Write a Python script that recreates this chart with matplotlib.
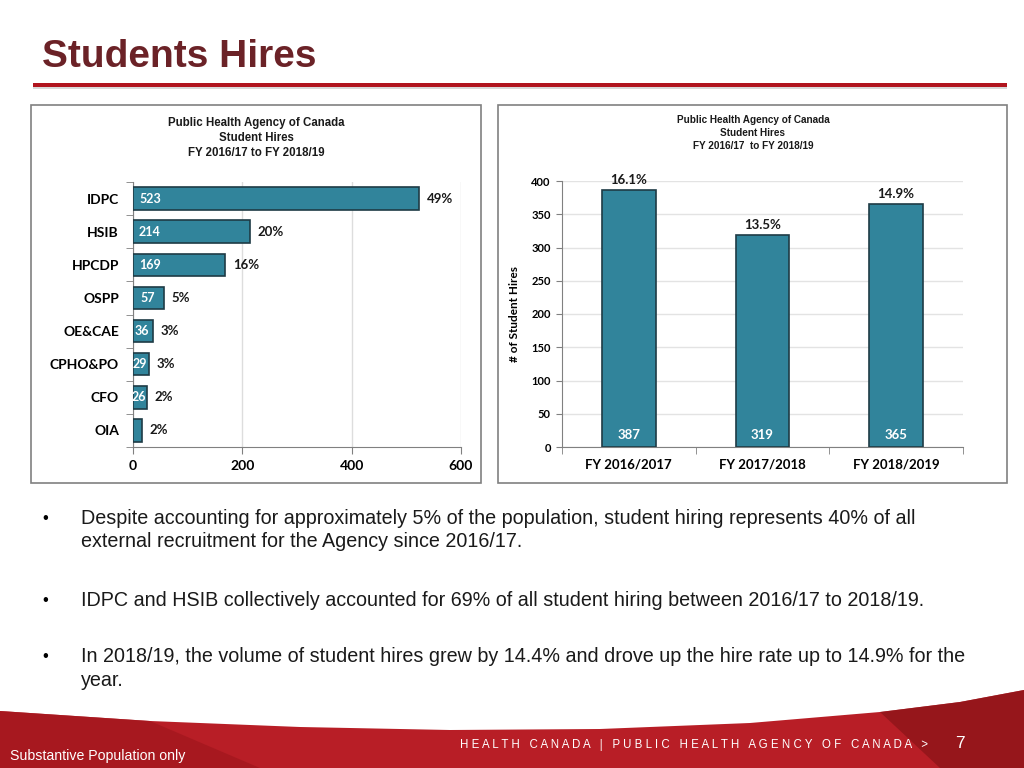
import matplotlib
matplotlib.use("Agg")
import matplotlib.pyplot as plt
from matplotlib.patches import Rectangle, Polygon
from matplotlib import font_manager
import numpy as np

# ---------------- data ----------------
branches = ["IDPC", "HSIB", "HPCDP", "OSPP", "OE&CAE", "CPHO&PO", "CFO", "OIA"]
branch_hires = [523, 214, 169, 57, 36, 29, 26, 17]
branch_pct = ["49%", "20%", "16%", "5%", "3%", "3%", "2%", "2%"]
branch_show_value = [True, True, True, True, True, True, True, False]
branch_ticks = [0, 200, 400, 600]

years = ["FY 2016/2017", "FY 2017/2018", "FY 2018/2019"]
year_hires = [387, 319, 365]
year_rate = ["16.1%", "13.5%", "14.9%"]
year_ticks = [0, 50, 100, 150, 200, 250, 300, 350, 400]

chart_title_left = "Public Health Agency of Canada\nStudent Hires\nFY 2016/17 to FY 2018/19"
chart_title_right = "Public Health Agency of Canada\nStudent Hires\nFY 2016/17  to FY 2018/19"
slide_title = "Students Hires"
bullets = [
    ["Despite accounting for approximately 5% of the population, student hiring represents 40% of all",
     "external recruitment for the Agency since 2016/17."],
    ["IDPC and HSIB collectively accounted for 69% of all student hiring between 2016/17 to 2018/19."],
    ["In 2018/19, the volume of student hires grew by 14.4% and drove up the hire rate up to 14.9% for the",
     "year."],
]

# ---------------- fonts ----------------
avail = {f.name for f in font_manager.fontManager.ttflist}
narrow = "Liberation Sans Narrow" if "Liberation Sans Narrow" in avail else "Liberation Sans"
chartfont = "Lato" if "Lato" in avail else "DejaVu Sans"
arial = "Liberation Sans"

BAR = "#31849B"
EDGE = "#1E3B45"
W, H = 1024, 768

fig = plt.figure(figsize=(10.24, 7.68), dpi=100)

def fx(x):
    return x / W

def fy(y):
    return 1 - y / H

# title and rule
fig.text(fx(42), fy(57), slide_title, family=narrow, fontweight="bold",
         fontsize=28, color="#6B2227", va="center", ha="left")
fig.add_artist(Rectangle((fx(33), fy(87)), fx(1007 - 33), 4 / H,
                         transform=fig.transFigure, facecolor="#B0141E",
                         edgecolor="none"))
fig.add_artist(Rectangle((fx(33), fy(89)), fx(1007 - 33), 2 / H,
                         transform=fig.transFigure, facecolor="#D9D9D9",
                         edgecolor="none", zorder=0))

# panel frames
for (x0, y0, x1, y1) in [(31, 105, 481, 483), (498, 105, 1007, 483)]:
    fig.add_artist(Rectangle((fx(x0), fy(y1)), fx(x1 - x0), (y1 - y0) / H,
                             transform=fig.transFigure, facecolor="white",
                             edgecolor="#808080", linewidth=1.2, zorder=0))

# ---------------- left chart ----------------
axL = fig.add_axes([fx(133), fy(447), fx(461 - 133), (447 - 182) / H])
ypos = np.arange(len(branches))
axL.barh(ypos, branch_hires, height=0.68, color=BAR, edgecolor=EDGE, linewidth=1.2, zorder=3)
axL.set_xlim(0, 600)
axL.set_ylim(len(branches) - 0.5, -0.5)
axL.set_xticks(branch_ticks)
axL.set_xticklabels([str(t) for t in branch_ticks], family=chartfont, fontweight="bold", fontsize=10)
axL.set_yticks(ypos)
axL.set_yticklabels(branches, family=chartfont, fontweight="bold", fontsize=10)
axL.tick_params(axis="y", length=0, pad=10)
axL.tick_params(axis="x", length=5, color="#808080", pad=4)
axL.set_yticks(np.arange(-0.5, len(branches), 1.0), minor=True)
axL.tick_params(axis="y", which="minor", length=5, color="#808080")
axL.grid(axis="x", color="#DDDDDD", linewidth=1, zorder=0)
for s in ["top", "right"]:
    axL.spines[s].set_visible(False)
axL.spines["left"].set_color("#808080")
axL.spines["bottom"].set_color("#808080")
for i, (v, p, show) in enumerate(zip(branch_hires, branch_pct, branch_show_value)):
    if show:
        if v > 60:
            axL.text(11, i, str(v), color="white", family=chartfont, fontweight="bold",
                     fontsize=9, va="center", ha="left", zorder=4)
        else:
            axL.text(v / 2 - 2, i, str(v), color="white", family=chartfont, fontweight="bold",
                     fontsize=9, va="center", ha="center", zorder=4)
    axL.text(v + 14, i, p, color="#1a1a1a", family=chartfont, fontweight="bold",
             fontsize=9.5, va="center", ha="left", zorder=4)
fig.text(fx(256), fy(138), chart_title_left, family=narrow, fontweight="bold",
         fontsize=8.3, ha="center", va="center", linespacing=1.35, color="#1a1a1a")

# ---------------- right chart ----------------
axR = fig.add_axes([fx(562), fy(447), fx(963 - 562), (447 - 181) / H])
xpos = np.arange(len(years))
axR.bar(xpos, year_hires, width=0.4, color=BAR, edgecolor=EDGE, linewidth=1.2, zorder=3)
axR.set_xlim(-0.5, len(years) - 0.5)
axR.set_ylim(0, 400)
axR.set_yticks(year_ticks)
axR.set_yticklabels([str(t) for t in year_ticks], family=chartfont, fontweight="bold", fontsize=8)
axR.set_xticks(xpos)
axR.set_xticklabels(years, family=chartfont, fontweight="bold", fontsize=9.5)
axR.tick_params(axis="x", length=0, pad=8)
axR.set_xticks(np.arange(-0.5, len(years), 1.0), minor=True)
axR.tick_params(axis="x", which="minor", length=5, color="#808080")
axR.tick_params(axis="y", length=4, color="#808080", pad=4)
axR.grid(axis="y", color="#E3E3E3", linewidth=1, zorder=0)
for s in ["top", "right"]:
    axR.spines[s].set_visible(False)
axR.spines["left"].set_color("#808080")
axR.spines["bottom"].set_color("#808080")
axR.set_ylabel("# of Student Hires", family=chartfont, fontweight="bold", fontsize=8.5, labelpad=8)
for i, (v, r) in enumerate(zip(year_hires, year_rate)):
    axR.text(i, 18, str(v), color="white", family=chartfont, fontweight="bold",
             fontsize=9.5, ha="center", va="center", zorder=4)
    axR.text(i, v + 6, r, color="#1a1a1a", family=chartfont, fontweight="bold",
             fontsize=9.5, ha="center", va="bottom", zorder=4)
fig.text(fx(753), fy(133), chart_title_right, family=narrow, fontweight="bold",
         fontsize=7.2, ha="center", va="center", linespacing=1.4, color="#1a1a1a")

# ---------------- bullets ----------------
bullet_y = [518, 600, 657]
for by, lines in zip(bullet_y, bullets):
    fig.text(fx(42), fy(by), "\u2022", family=arial, fontsize=12, va="center", ha="left")
    for k, line in enumerate(lines):
        fig.text(fx(81), fy(by + 23.5 * k), line, family=arial, fontsize=14.2,
                 va="center", ha="left", color="#1a1a1a")

# ---------------- footer band ----------------
top_edge_x = [0, 150, 300, 450, 600, 750, 880, 960, 1024]
top_edge_y = [711, 721, 727, 730, 729, 723, 712, 702, 690]
pts = [(fx(x), fy(y)) for x, y in zip(top_edge_x, top_edge_y)]
pts += [(1, 0), (0, 0)]
fig.add_artist(Polygon(pts, closed=True, transform=fig.transFigure,
                       facecolor="#B81E26", edgecolor="none", zorder=1))
shade = [(fx(0), fy(711)), (fx(150), fy(721)), (fx(260), fy(768)), (fx(0), fy(768))]
fig.add_artist(Polygon(shade, closed=True, transform=fig.transFigure,
                       facecolor="#A3171E", edgecolor="none", zorder=1, alpha=0.8))
shade2 = [(fx(880), fy(712)), (fx(960), fy(702)), (fx(1024), fy(690)), (fx(1024), fy(768)), (fx(940), fy(768))]
fig.add_artist(Polygon(shade2, closed=True, transform=fig.transFigure,
                       facecolor="#8E1419", edgecolor="none", zorder=1, alpha=0.8))

fig.text(fx(460), fy(745), "H E A L T H   C A N A D A   |   P U B L I C   H E A L T H   A G E N C Y   O F   C A N A D A   >",
         family=arial, fontsize=8.3, color="white", va="center", ha="left", zorder=2)
fig.text(fx(955), fy(743), "7", family=arial, fontsize=12.5, color="white", va="center", ha="left", zorder=2)
fig.text(fx(10), fy(756), "Substantive Population only", family=arial, fontsize=10.2,
         color="white", va="center", ha="left", zorder=2)

fig.savefig("out.png", dpi=100)
